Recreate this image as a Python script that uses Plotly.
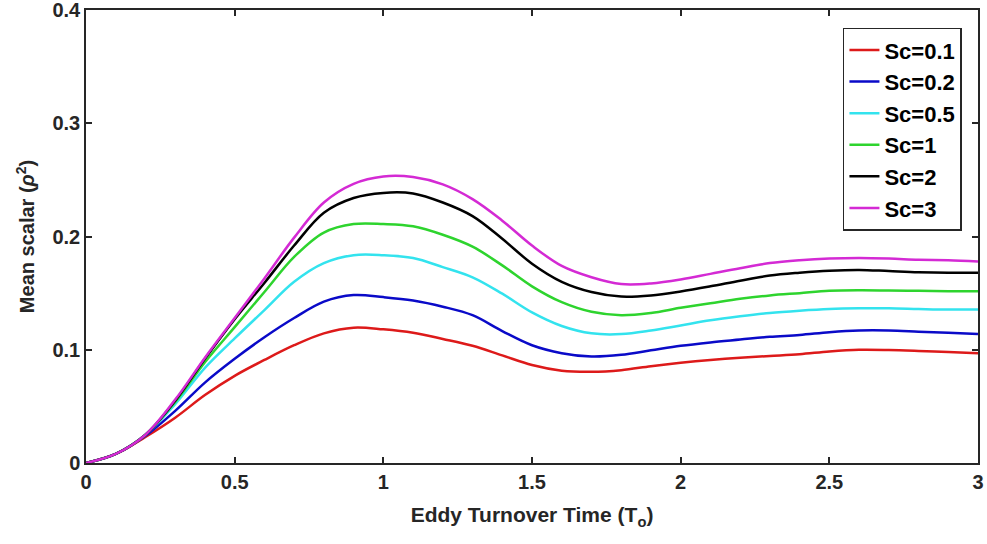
import plotly.graph_objects as go

time = [0.0, 0.1, 0.2, 0.3, 0.4, 0.5, 0.6, 0.7, 0.8, 0.9, 1.0, 1.1, 1.2, 1.3, 1.4, 1.5, 1.6, 1.7,
        1.8, 1.9, 2.0, 2.1, 2.2, 2.3, 2.4, 2.5, 2.6, 2.7, 2.8, 2.9, 3.0]

sc_01 = [0.0, 0.008, 0.023, 0.040, 0.060, 0.077, 0.091, 0.104, 0.1145, 0.1195, 0.118, 0.115, 0.1095,
         0.1035, 0.095, 0.0865, 0.0815, 0.0805, 0.082, 0.0855, 0.0885, 0.091, 0.093, 0.0945, 0.096,
         0.0985, 0.100, 0.0998, 0.099, 0.098, 0.097]
sc_02 = [0.0, 0.008, 0.024, 0.046, 0.071, 0.092, 0.111, 0.128, 0.1425, 0.1483, 0.1465, 0.1435, 0.138,
         0.1305, 0.1165, 0.104, 0.097, 0.094, 0.0955, 0.0995, 0.1035, 0.1065, 0.109, 0.1115, 0.113,
         0.1155, 0.117, 0.117, 0.116, 0.115, 0.114]
sc_05 = [0.0, 0.008, 0.025, 0.052, 0.084, 0.110, 0.135, 0.160, 0.1765, 0.1835, 0.1835, 0.181, 0.173,
         0.164, 0.1495, 0.133, 0.121, 0.1145, 0.1138, 0.117, 0.1215, 0.126, 0.1295, 0.1325, 0.1345,
         0.136, 0.1366, 0.1366, 0.136, 0.1355, 0.1355]
sc_1 = [0.0, 0.008, 0.025, 0.054, 0.089, 0.120, 0.151, 0.182, 0.2035, 0.211, 0.211, 0.209, 0.2015,
        0.191, 0.1745, 0.156, 0.142, 0.1335, 0.1305, 0.1325, 0.137, 0.141, 0.145, 0.148, 0.150,
        0.152, 0.1525, 0.1523, 0.152, 0.1517, 0.1517]
sc_2 = [0.0, 0.008, 0.025, 0.055, 0.092, 0.127, 0.159, 0.192, 0.221, 0.234, 0.2385, 0.238, 0.230,
        0.218, 0.198, 0.176, 0.160, 0.151, 0.147, 0.148, 0.1515, 0.156, 0.161, 0.1655, 0.168,
        0.1698, 0.1705, 0.1695, 0.1685, 0.168, 0.168]
sc_3 = [0.0, 0.008, 0.025, 0.056, 0.093, 0.128, 0.163, 0.199, 0.230, 0.2465, 0.253, 0.2525, 0.246,
        0.233, 0.214, 0.192, 0.174, 0.164, 0.158, 0.1585, 0.162, 0.167, 0.172, 0.1765, 0.179,
        0.1805, 0.181, 0.1805, 0.1795, 0.179, 0.178]

series = [sc_01, sc_02, sc_05, sc_1, sc_2, sc_3]
names = ["Sc=0.1", "Sc=0.2", "Sc=0.5", "Sc=1", "Sc=2", "Sc=3"]
colors = ["#dd1a1a", "#0a0ac8", "#33e3ee", "#2ed42e", "#000000", "#d42ad4"]

x_ticks = [0, 0.5, 1, 1.5, 2, 2.5, 3]
x_tick_labels = ["0", "0.5", "1", "1.5", "2", "2.5", "3"]
y_ticks = [0, 0.1, 0.2, 0.3, 0.4]
y_tick_labels = ["0", "0.1", "0.2", "0.3", "0.4"]

fig = go.Figure()
for ys, nm, col in zip(series, names, colors):
    fig.add_trace(go.Scatter(
        x=time, y=ys, mode="lines", name=nm, legendgroup=nm,
        line=dict(color=col, width=2.5, shape="spline", smoothing=1.0),
    ))

font_fam = "Liberation Sans, Arial, sans-serif"
axis_common = dict(
    showline=True, linecolor="#262626", linewidth=1.5, mirror="ticks",
    ticks="inside", ticklen=6, tickwidth=1.5, tickcolor="#262626",
    showgrid=False, zeroline=False, automargin=False, ticklabeloverflow="allow",
    tickfont=dict(family=font_fam, size=20, color="#262626", weight="bold"),
)

fig.update_layout(
    width=987, height=544,
    margin=dict(l=86, r=9, t=10, b=81),
    paper_bgcolor="white", plot_bgcolor="white",
    xaxis=dict(range=[0, 3], tickvals=x_ticks, ticktext=x_tick_labels,
               title=dict(text="Eddy Turnover Time (T<sub>o</sub>)", standoff=16,
                          font=dict(family=font_fam, size=21, color="#262626", weight="bold")),
               **axis_common),
    yaxis=dict(range=[0, 0.4], tickvals=y_ticks, ticktext=y_tick_labels,
               title=dict(text="Mean scalar (<i>ρ</i><sup>2</sup>)", standoff=12,
                          font=dict(family=font_fam, size=20, color="#262626", weight="bold")),
               **axis_common),
    legend=dict(
        x=0.982, y=0.961, xanchor="right", yanchor="top",
        bordercolor="#262626", borderwidth=1.5, bgcolor="white",
        font=dict(family=font_fam, size=22, color="#000000", weight="bold"),
        tracegroupgap=4, traceorder="normal",
    ),
    showlegend=True,
)

fig.write_html("out.html")
